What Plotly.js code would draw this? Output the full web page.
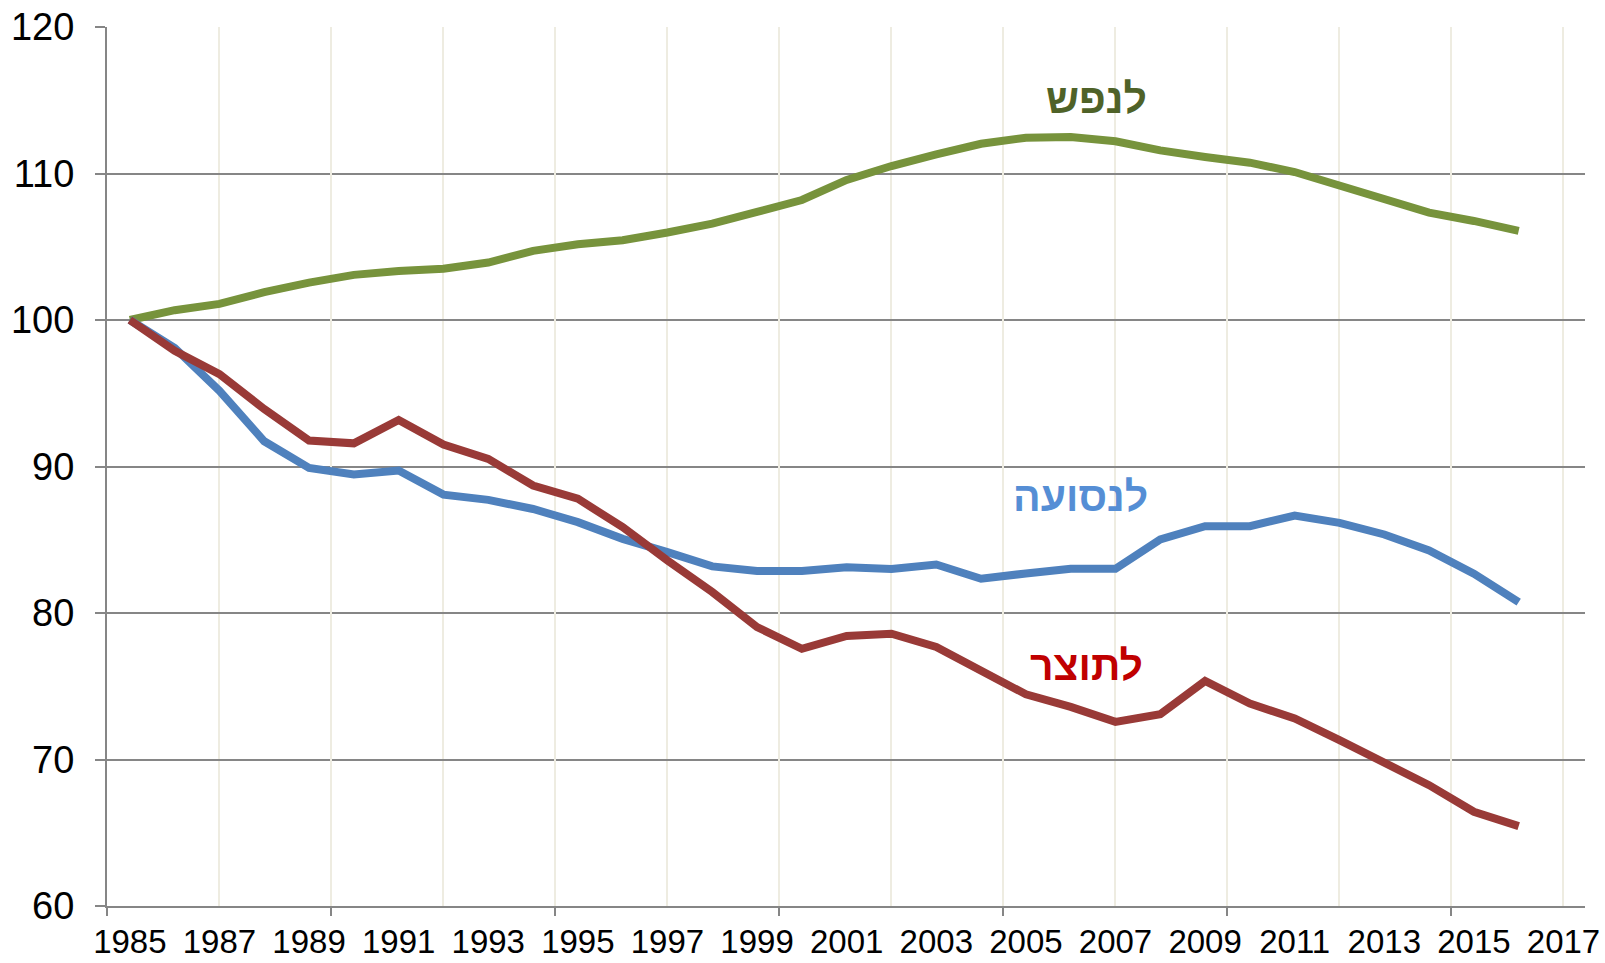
<!DOCTYPE html>
<html>
<head>
<meta charset="utf-8">
<script src="https://cdn.plot.ly/plotly-3.0.1.min.js"></script>
<style>
  html, body { margin: 0; padding: 0; background: #ffffff; }
  #chart { width: 1605px; height: 963px; }
</style>
</head>
<body>
<div id="chart"></div>
<script>
// Years (x categories)
const years = [1985, 1986, 1987, 1988, 1989, 1990, 1991, 1992, 1993, 1994, 1995,
               1996, 1997, 1998, 1999, 2000, 2001, 2002, 2003, 2004, 2005,
               2006, 2007, 2008, 2009, 2010, 2011, 2012, 2013, 2014, 2015, 2016];

// Series: per capita (לנפש)
const perCapita = [100, 100.67, 101.1, 101.9, 102.55, 103.08, 103.35, 103.5, 103.92, 104.72, 105.17,
                   105.45, 105.97, 106.58, 107.38, 108.19, 109.56, 110.51, 111.3, 112.03, 112.44,
                   112.49, 112.2, 111.58, 111.13, 110.74, 110.1, 109.15, 108.24, 107.33, 106.76, 106.08];

// Series: per passenger (לנסועה)
const perPassenger = [100, 98.1, 95.17, 91.72, 89.9, 89.45, 89.72, 88.08, 87.72, 87.1, 86.2,
                      85.06, 84.15, 83.18, 82.86, 82.86, 83.13, 83.0, 83.31, 82.34, 82.7,
                      83.02, 83.02, 85.02, 85.93, 85.93, 86.65, 86.15, 85.36, 84.27, 82.68, 80.74];

// Series: per GDP (לתוצר)
const perGdp = [100, 97.9, 96.3, 93.92, 91.77, 91.58, 93.17, 91.5, 90.52, 88.7, 87.8,
                85.86, 83.59, 81.43, 79.04, 77.56, 78.43, 78.59, 77.68, 76.09, 74.45,
                73.59, 72.57, 73.09, 75.36, 73.82, 72.8, 71.32, 69.84, 68.25, 66.43, 65.45];

// Series labels
const seriesNames = ["לנפש", "לנסועה", "לתוצר"];

// Axis tick values and labels
const xTickVals = [1985, 1987, 1989, 1991, 1993, 1995, 1997, 1999, 2001, 2003, 2005, 2007, 2009, 2011, 2013, 2015, 2017];
const xTickText = xTickVals.map(String);
const yTickVals = [60, 70, 80, 90, 100, 110, 120];

const lineColors = ["#77933C", "#4F81BD", "#993A37"];
const labelColors = ["#4F6228", "#558ED5", "#C00000"];

const XR = [1984.49, 2017.48];
const gridGray = "#868686";
const gridCream = "#EEECE1";
const labelFont = "Arial, Liberation Sans, sans-serif";

const mk = (y, i) => ({
  type: "scatter",
  mode: "lines",
  x: years,
  y: y,
  name: seriesNames[i],
  line: { color: lineColors[i], width: 8, shape: "linear" },
  hoverinfo: "x+y+name",
  xaxis: "x",
  yaxis: "y"
});

const traces = [mk(perCapita, 0), mk(perPassenger, 1), mk(perGdp, 2)];

const layout = {
  width: 1605,
  height: 963,
  margin: { l: 107, r: 20, t: 27, b: 57, pad: 0 },
  paper_bgcolor: "#ffffff",
  plot_bgcolor: "#ffffff",
  showlegend: false,
  font: { family: "Liberation Sans, Arial, sans-serif", color: "#000000" },
  xaxis: {
    range: XR,
    tickmode: "array",
    tickvals: xTickVals,
    ticktext: xTickText,
    ticks: "",
    showgrid: false,
    zeroline: false,
    showline: false,
    ticklabelstandoff: 13,
    tickfont: { family: "Liberation Sans Narrow, Arial Narrow, Liberation Sans, sans-serif", size: 33, color: "#000000" },
    fixedrange: true
  },
  xaxis2: {
    overlaying: "x",
    range: XR,
    tickmode: "linear",
    tick0: XR[0],
    dtick: 5,
    ticks: "outside",
    ticklen: 8,
    tickwidth: 2,
    tickcolor: gridGray,
    showticklabels: false,
    showgrid: true,
    gridcolor: gridCream,
    gridwidth: 2,
    minor: { tick0: XR[0], dtick: 2.5, showgrid: true, gridcolor: gridCream, gridwidth: 2, ticks: "" },
    zeroline: false,
    showline: true,
    linecolor: gridGray,
    linewidth: 2,
    anchor: "y",
    side: "bottom",
    fixedrange: true
  },
  yaxis: {
    range: [60, 120],
    tickmode: "array",
    tickvals: yTickVals,
    ticks: "outside",
    ticklen: 10,
    tickwidth: 2,
    tickcolor: gridGray,
    showgrid: true,
    gridcolor: gridGray,
    gridwidth: 2,
    zeroline: false,
    showline: true,
    linecolor: gridGray,
    linewidth: 2,
    ticklabelstandoff: 13,
    tickfont: { family: "Liberation Sans, Arial, sans-serif", size: 38, color: "#000000" },
    fixedrange: true
  },
  annotations: [
    { x: 2006.58, y: 115.1, xref: "x", yref: "y", text: "<b>" + seriesNames[0] + "</b>", showarrow: false,
      font: { family: labelFont, size: 41, color: labelColors[0] } },
    { x: 2006.23, y: 87.93, xref: "x", yref: "y", text: "<b>" + seriesNames[1] + "</b>", showarrow: false,
      font: { family: labelFont, size: 41, color: labelColors[1] } },
    { x: 2006.36, y: 76.39, xref: "x", yref: "y", text: "<b>" + seriesNames[2] + "</b>", showarrow: false,
      font: { family: labelFont, size: 41, color: labelColors[2] } }
  ]
};

// empty helper trace that activates the overlay axis used for the 2.5-year grid
traces.unshift({ type: "scatter", mode: "none", x: [], y: [], xaxis: "x2", yaxis: "y", hoverinfo: "skip", showlegend: false });

Plotly.newPlot("chart", traces, layout, { displayModeBar: false, staticPlot: true });
</script>
</body>
</html>
